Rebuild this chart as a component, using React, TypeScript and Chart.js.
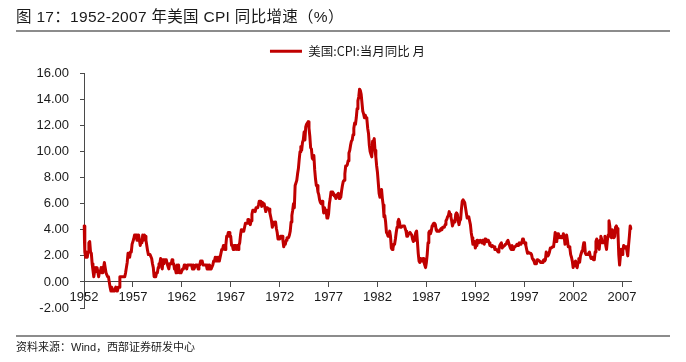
import React, { useEffect, useRef } from "react";
import { Chart, registerables } from "chart.js";

Chart.register(...registerables);

const TITLE = "图 17：1952-2007 年美国 CPI 同比增速（%）";
const SOURCE = "资料来源：Wind，西部证券研发中心";
const SERIES_NAME = "美国:CPI:当月同比 月";
const START_YEAR = 1952;

const tickYears = [1952, 1957, 1962, 1967, 1972, 1977, 1982, 1987, 1992, 1997, 2002, 2007];
const yTicks = [-2, 0, 2, 4, 6, 8, 10, 12, 14, 16];

// Monthly CPI YoY (%), Jan 1952 – Dec 2007, one row per year
const cpiYoY = [
  4.3, 2.3, 1.9, 2.3, 1.9, 2.3, 3.0, 3.1, 2.3, 2.2, 1.4, 0.9,
  0.4, 0.8, 1.1, 0.8, 1.1, 1.1, 0.4, 0.8, 0.8, 1.1, 0.7, 0.7,
  1.1, 1.5, 1.1, 0.7, 0.7, 0.4, 0.4, 0.0, -0.4, -0.7, -0.4, -0.7,
  -0.7, -0.7, -0.7, -0.4, -0.7, -0.7, -0.4, -0.4, 0.4, 0.4, 0.4, 0.4,
  0.4, 0.4, 0.4, 0.7, 1.1, 1.5, 2.2, 1.9, 1.9, 2.3, 2.3, 2.9,
  2.9, 3.3, 3.6, 3.6, 3.6, 3.2, 3.2, 3.6, 3.2, 2.8, 3.2, 3.0,
  3.6, 3.2, 3.6, 3.5, 3.2, 2.8, 2.4, 2.1, 2.1, 2.1, 2.1, 1.8,
  1.4, 1.1, 0.4, 0.4, 0.4, 0.7, 0.7, 1.1, 1.4, 1.4, 1.8, 1.7,
  1.0, 1.7, 1.4, 1.7, 1.7, 1.7, 1.4, 1.4, 1.0, 1.4, 1.4, 1.4,
  1.7, 1.4, 1.4, 1.0, 1.0, 0.7, 1.3, 1.0, 1.3, 0.7, 0.7, 0.7,
  0.7, 1.0, 1.0, 1.3, 1.3, 1.3, 1.0, 1.3, 1.3, 1.3, 1.3, 1.3,
  1.3, 1.0, 1.3, 1.0, 1.0, 1.3, 1.3, 1.3, 1.0, 1.3, 1.3, 1.6,
  1.6, 1.6, 1.3, 1.3, 1.3, 1.3, 1.3, 1.0, 1.3, 1.0, 1.3, 1.0,
  1.0, 1.0, 1.3, 1.6, 1.6, 1.9, 1.6, 1.9, 1.6, 1.9, 1.6, 1.9,
  1.9, 2.5, 2.5, 2.8, 2.8, 2.5, 2.8, 3.5, 3.5, 3.8, 3.8, 3.5,
  3.5, 2.8, 2.8, 2.5, 2.8, 2.8, 2.8, 2.5, 2.8, 2.5, 2.8, 3.0,
  3.6, 4.0, 4.0, 3.9, 3.9, 4.2, 4.5, 4.5, 4.5, 4.8, 4.8, 4.7,
  4.4, 4.7, 5.2, 5.5, 5.5, 5.5, 5.4, 5.7, 5.7, 5.7, 5.9, 6.2,
  6.2, 6.1, 5.8, 6.1, 6.0, 6.0, 6.0, 5.4, 5.7, 5.7, 5.6, 5.6,
  5.3, 5.0, 4.7, 4.2, 4.4, 4.6, 4.4, 4.6, 4.1, 3.8, 3.3, 3.3,
  3.3, 3.5, 3.5, 3.5, 3.2, 2.7, 2.9, 2.9, 3.2, 3.4, 3.4, 3.4,
  3.6, 3.9, 4.6, 5.1, 5.5, 6.0, 5.7, 7.4, 7.4, 7.8, 8.3, 8.7,
  9.4, 10.0, 10.4, 10.1, 10.7, 10.9, 11.5, 10.9, 11.9, 12.1, 12.2, 12.3,
  11.8, 11.2, 10.3, 10.2, 9.5, 9.4, 9.7, 8.6, 7.9, 7.4, 7.4, 6.9,
  6.7, 6.3, 6.1, 6.0, 6.2, 5.9, 5.3, 5.7, 5.5, 5.5, 4.9, 4.9,
  5.2, 6.0, 6.4, 6.9, 6.7, 6.9, 6.8, 6.6, 6.6, 6.4, 6.7, 6.7,
  6.8, 6.4, 6.6, 6.5, 7.0, 7.4, 7.7, 7.8, 8.3, 8.9, 8.9, 9.0,
  9.3, 9.9, 10.1, 10.5, 10.8, 10.9, 11.3, 11.8, 12.2, 12.1, 12.6, 13.3,
  13.9, 14.2, 14.8, 14.7, 14.4, 14.4, 13.1, 12.9, 12.6, 12.8, 12.6, 12.5,
  11.8, 11.4, 10.5, 10.0, 9.8, 9.6, 10.8, 10.8, 11.0, 10.1, 9.6, 8.9,
  8.4, 7.6, 6.8, 6.5, 6.7, 7.1, 6.4, 5.9, 5.0, 5.1, 4.6, 3.8,
  3.7, 3.5, 3.6, 3.9, 3.5, 2.6, 2.5, 2.6, 2.9, 2.9, 3.3, 3.8,
  4.2, 4.6, 4.8, 4.6, 4.2, 4.2, 4.2, 4.3, 4.3, 4.3, 4.1, 3.9,
  3.5, 3.5, 3.7, 3.7, 3.8, 3.8, 3.6, 3.3, 3.1, 3.2, 3.5, 3.8,
  3.9, 3.1, 2.2, 1.6, 1.5, 1.8, 1.6, 1.6, 1.8, 1.5, 1.3, 1.1,
  1.5, 2.1, 3.0, 3.8, 3.9, 3.7, 3.9, 4.3, 4.4, 4.5, 4.5, 4.4,
  4.0, 3.9, 3.9, 3.9, 3.9, 4.0, 4.1, 4.0, 4.2, 4.2, 4.2, 4.4,
  4.7, 4.8, 5.0, 5.1, 5.4, 5.2, 5.0, 4.7, 4.3, 4.5, 4.7, 4.6,
  5.2, 5.3, 5.2, 4.7, 4.4, 4.7, 4.8, 5.6, 6.2, 6.3, 6.3, 6.1,
  5.7, 5.3, 4.9, 4.9, 5.0, 4.7, 4.4, 3.8, 3.4, 2.9, 3.0, 3.1,
  2.6, 2.8, 3.2, 3.2, 3.0, 3.1, 3.2, 3.1, 3.0, 3.2, 3.0, 2.9,
  3.3, 3.2, 3.1, 3.2, 3.2, 3.0, 2.8, 2.8, 2.7, 2.8, 2.7, 2.7,
  2.5, 2.5, 2.5, 2.4, 2.3, 2.5, 2.8, 2.9, 3.0, 2.6, 2.7, 2.7,
  2.8, 2.9, 2.9, 3.1, 3.2, 3.0, 2.8, 2.6, 2.5, 2.8, 2.6, 2.5,
  2.7, 2.7, 2.8, 2.9, 2.9, 2.8, 3.0, 2.9, 3.0, 3.0, 3.3, 3.3,
  3.0, 3.0, 2.8, 2.5, 2.2, 2.3, 2.2, 2.2, 2.2, 2.1, 1.8, 1.7,
  1.6, 1.4, 1.4, 1.4, 1.7, 1.7, 1.7, 1.6, 1.5, 1.5, 1.5, 1.6,
  1.7, 1.6, 1.7, 2.3, 2.1, 2.0, 2.1, 2.3, 2.6, 2.6, 2.6, 2.7,
  2.7, 3.2, 3.8, 3.1, 3.2, 3.7, 3.7, 3.4, 3.5, 3.4, 3.4, 3.4,
  3.7, 3.5, 2.9, 3.3, 3.6, 3.2, 2.7, 2.7, 2.6, 2.1, 1.9, 1.6,
  1.1, 1.1, 1.5, 1.6, 1.2, 1.1, 1.5, 1.8, 1.5, 2.0, 2.2, 2.4,
  2.6, 3.0, 3.0, 2.2, 2.1, 2.1, 2.1, 2.2, 2.3, 2.0, 1.8, 1.9,
  1.9, 1.7, 1.7, 2.3, 3.1, 3.3, 3.0, 2.7, 2.5, 3.2, 3.5, 3.3,
  3.0, 3.0, 3.1, 3.5, 2.8, 2.5, 3.2, 3.6, 4.7, 4.3, 3.5, 3.4,
  4.0, 3.6, 3.4, 3.5, 4.2, 4.3, 4.1, 3.8, 2.1, 1.3, 2.0, 2.5,
  2.1, 2.4, 2.8, 2.6, 2.7, 2.7, 2.4, 2.0, 2.8, 3.5, 4.3, 4.1,
];

const months = cpiYoY.map(
  (_, i) => `${START_YEAR + Math.floor(i / 12)}-${String((i % 12) + 1).padStart(2, "0")}`
);
const tickIndices = tickYears.map((y) => months.indexOf(`${y}-01`));

const LATIN_CJK = "'Liberation Sans', Arial, 'Noto Sans CJK SC', sans-serif";
const CJK = "'Noto Sans CJK SC', 'Liberation Sans', sans-serif";
const AXIS = "#4a4a4a";
const TEXT = "#1a1a1a";
const RED = "#C00000";

const legendGap = {
  id: "legendGap",
  beforeLayout(chart: any) {
    const lg = chart.legend;
    if (lg && !lg.__gapPatched) {
      const fit = lg.fit.bind(lg);
      lg.fit = () => {
        fit();
        lg.height += 6;
      };
      lg.__gapPatched = true;
    }
  },
};

export default function App() {
  const ref = useRef<HTMLCanvasElement | null>(null);

  useEffect(() => {
    if (!ref.current) return;
    const chart = new Chart(ref.current, {
      type: "line",
      data: {
        labels: months,
        datasets: [
          {
            label: SERIES_NAME,
            data: cpiYoY,
            borderColor: RED,
            backgroundColor: RED,
            borderWidth: 3,
            borderJoinStyle: "round",
            borderCapStyle: "round",
            pointRadius: 0,
            tension: 0,
            fill: false,
            yAxisID: "y",
          },
        ],
      },
      options: {
        animation: false,
        responsive: false,
        maintainAspectRatio: false,
        devicePixelRatio: 1,
        layout: { padding: { left: 9, right: 0, top: 35, bottom: 54 } },
        plugins: {
          legend: {
            display: true,
            position: "top",
            align: "center",
            labels: {
              usePointStyle: true,
              pointStyle: "line",
              pointStyleWidth: 32,
              padding: 10,
              color: TEXT,
              font: { family: CJK, size: 12.5 },
            },
          },
          tooltip: { enabled: false },
          title: { display: false },
        },
        scales: {
          x: {
            type: "category",
            position: { y: 0 } as any,
            afterFit: (s: any) => {
              s.height = 0;
            },
            afterBuildTicks: (s: any) => {
              s.ticks = tickIndices.map((v) => ({ value: v }));
            },
            ticks: {
              autoSkip: false,
              maxRotation: 0,
              minRotation: 0,
              padding: 3,
              color: TEXT,
              font: { family: LATIN_CJK, size: 13 },
              callback: (v: any) => months[Number(v)].slice(0, 4),
            },
            grid: { display: true, drawOnChartArea: false, drawTicks: true, tickLength: 5, color: AXIS },
            border: { display: true, color: AXIS, width: 1 },
          },
          y: {
            position: "left",
            min: -2,
            max: 16,
            afterFit: (s: any) => {
              s.width = 75;
            },
            afterBuildTicks: (s: any) => {
              s.ticks = yTicks.map((v) => ({ value: v }));
            },
            ticks: {
              padding: 11,
              color: TEXT,
              font: { family: LATIN_CJK, size: 13 },
              callback: (v: any) => Number(v).toFixed(2),
            },
            grid: { display: true, drawOnChartArea: false, drawTicks: true, tickLength: 4, color: AXIS },
            border: { display: true, color: AXIS, width: 1 },
          },
          rightSpace: {
            axis: "y",
            type: "linear",
            position: "right",
            display: true,
            afterFit: (s: any) => {
              s.width = 55;
            },
            ticks: { display: false },
            grid: { display: false, drawTicks: false },
            border: { display: false },
          },
        },
      },
      plugins: [legendGap],
    });
    return () => chart.destroy();
  }, []);

  return (
    <div
      style={{
        position: "fixed",
        left: 0,
        top: 0,
        width: 686,
        height: 362,
        background: "#fff",
        overflow: "hidden",
      }}
    >
      <canvas ref={ref} width={686} height={362} style={{ position: "absolute", left: 0, top: 0 }} />
      <div
        style={{
          position: "absolute",
          left: 16,
          top: 7,
          fontFamily: LATIN_CJK,
          fontSize: 15.5,
          letterSpacing: "0.3px",
          lineHeight: "20px",
          color: TEXT,
          whiteSpace: "nowrap",
        }}
      >
        {TITLE}
      </div>
      <div style={{ position: "absolute", left: 16, top: 30, width: 654, height: 2, background: "#8c8c8c" }} />
      <div style={{ position: "absolute", left: 16, top: 335, width: 654, height: 2, background: "#8c8c8c" }} />
      <div
        style={{
          position: "absolute",
          left: 16,
          top: 340,
          fontFamily: LATIN_CJK,
          fontSize: 11,
          lineHeight: "14px",
          color: TEXT,
          whiteSpace: "nowrap",
        }}
      >
        {SOURCE}
      </div>
    </div>
  );
}
